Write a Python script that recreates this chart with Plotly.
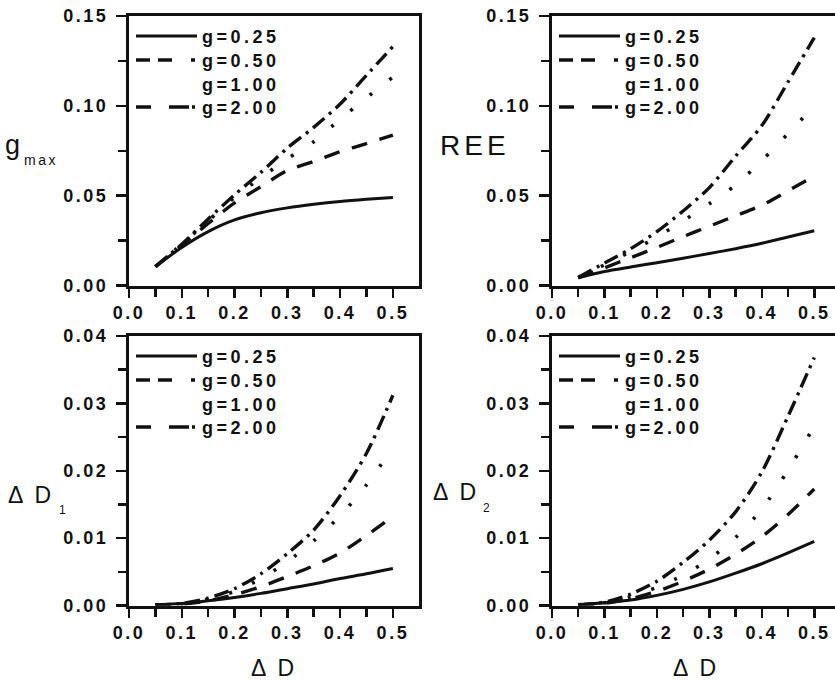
import plotly.graph_objects as go

# ---------------- data ----------------
dD = [0.05, 0.10, 0.15, 0.20, 0.25, 0.30, 0.35, 0.40, 0.45, 0.50]
g_labels = ["g=0.25", "g=0.50", "g=1.00", "g=2.00"]

gmax_025 = [0.0105, 0.0212, 0.0300, 0.0365, 0.0405, 0.0432, 0.0452, 0.0468, 0.0480, 0.0490]
gmax_050 = [0.0105, 0.0225, 0.0345, 0.0460, 0.0550, 0.0640, 0.0690, 0.0745, 0.0790, 0.0837]
gmax_100 = [0.0105, 0.0230, 0.0360, 0.0490, 0.0600, 0.0705, 0.0800, 0.0925, 0.1045, 0.1160]
gmax_200 = [0.0105, 0.0230, 0.0370, 0.0505, 0.0630, 0.0765, 0.0880, 0.1010, 0.1170, 0.1330]

ree_025 = [0.0043, 0.0078, 0.0103, 0.0127, 0.0152, 0.0178, 0.0205, 0.0235, 0.0270, 0.0305]
ree_050 = [0.0043, 0.0098, 0.0155, 0.0212, 0.0272, 0.0330, 0.0388, 0.0447, 0.0527, 0.0610]
ree_100 = [0.0045, 0.0115, 0.0190, 0.0270, 0.0360, 0.0455, 0.0559, 0.0695, 0.0845, 0.1000]
ree_200 = [0.0045, 0.0125, 0.0205, 0.0300, 0.0415, 0.0545, 0.0720, 0.0890, 0.1133, 0.1380]

d1_025 = [0.0001, 0.0003, 0.0007, 0.0012, 0.0018, 0.0025, 0.0032, 0.0040, 0.0047, 0.0055]
d1_050 = [0.00005, 0.0002, 0.0007, 0.0016, 0.0028, 0.0043, 0.0059, 0.0078, 0.0104, 0.0132]
d1_100 = [0.00005, 0.0002, 0.0009, 0.0021, 0.0040, 0.0065, 0.0096, 0.0133, 0.0179, 0.0235]
d1_200 = [0.00005, 0.0003, 0.0011, 0.0025, 0.0047, 0.0077, 0.0112, 0.0163, 0.0226, 0.0312]

d2_025 = [0.0001, 0.0004, 0.0008, 0.0015, 0.0024, 0.0035, 0.0048, 0.0062, 0.0078, 0.0095]
d2_050 = [0.0001, 0.0003, 0.0010, 0.0021, 0.0036, 0.0054, 0.0076, 0.0102, 0.0135, 0.0173]
d2_100 = [0.0001, 0.0004, 0.0013, 0.0027, 0.0045, 0.0069, 0.0101, 0.0143, 0.0201, 0.0266]
d2_200 = [0.0001, 0.0005, 0.0017, 0.0036, 0.0064, 0.0097, 0.0139, 0.0198, 0.0281, 0.0368]

x_tickvals = [0.0, 0.1, 0.2, 0.3, 0.4, 0.5]
x_ticktext = ["0.0", "0.1", "0.2", "0.3", "0.4", "0.5"]
y_top_tickvals = [0.0, 0.05, 0.10, 0.15]
y_top_ticktext = ["0.00", "0.05", "0.10", "0.15"]
y_bot_tickvals = [0.0, 0.01, 0.02, 0.03, 0.04]
y_bot_ticktext = ["0.00", "0.01", "0.02", "0.03", "0.04"]

# ---------------- styling ----------------
W, H = 835, 680
FONT = "Liberation Sans, Arial, sans-serif"
INK = "#111111"


def px(x):
    return x / W


def py(y):
    return 1 - y / H


def sp(text, ls):
    return f'<span style="letter-spacing:{ls}px">{text}</span>'


dashes = ["solid", "16px,13px", "3px,22px", "15px,6px,3px,6px"]
legend_dashes = ["solid", "14px,8px,14px,19px,4px,40px", None, "15px,18px,20px,3px,3px,40px"]
widths = [3, 3.4, 3.6, 3.4]

panels = [
    dict(series=[gmax_025, gmax_050, gmax_100, gmax_200], l=129, r=419, t=16, b=285.5,
         xr=[0, 0.5495], yr=[0, 0.15], yv=y_top_tickvals, yt=y_top_ticktext, ym=0.025, right=False),
    dict(series=[ree_025, ree_050, ree_100, ree_200], l=552, r=835, t=16, b=285.5,
         xr=[0, 0.5395], yr=[0, 0.15], yv=y_top_tickvals, yt=y_top_ticktext, ym=0.025, right=True),
    dict(series=[d1_025, d1_050, d1_100, d1_200], l=129, r=419, t=336, b=605.5,
         xr=[0, 0.5495], yr=[0, 0.04], yv=y_bot_tickvals, yt=y_bot_ticktext, ym=0.005, right=False),
    dict(series=[d2_025, d2_050, d2_100, d2_200], l=552, r=835, t=336, b=605.5,
         xr=[0, 0.5395], yr=[0, 0.04], yv=y_bot_tickvals, yt=y_bot_ticktext, ym=0.005, right=True),
]

fig = go.Figure()
layout = dict(
    width=W, height=H, margin=dict(l=0, r=0, t=0, b=0, autoexpand=False),
    paper_bgcolor="white", plot_bgcolor="white", showlegend=False,
    font=dict(family=FONT, color=INK, size=18),
)
shapes = []
annotations = []

for i, p in enumerate(panels):
    n = "" if i == 0 else str(i + 1)
    xa, ya = "x" + n, "y" + n
    for k, s in enumerate(p["series"]):
        fig.add_trace(go.Scatter(
            x=dD, y=s, mode="lines", xaxis=xa, yaxis=ya,
            line=dict(color=INK, width=widths[k], dash=dashes[k], shape="spline", smoothing=0.8),
            name=g_labels[k], showlegend=False, hoverinfo="skip"))
    axcommon = dict(showgrid=False, zeroline=False, showline=True, linecolor=INK, linewidth=3,
                    ticks="outside", tickwidth=2.5, tickcolor=INK, automargin=False,
                    tickfont=dict(family=FONT, size=18, color=INK, weight="bold"))
    layout["xaxis" + n] = dict(
        axcommon, domain=[px(p["l"]), px(p["r"])], range=p["xr"], anchor=ya,
        tickmode="array", tickvals=x_tickvals, ticktext=[sp(t, 2.5) for t in x_ticktext],
        ticklen=9, mirror=True,
        minor=dict(dtick=0.05, tick0=0, ticks="outside", ticklen=8, tickwidth=2.5, tickcolor=INK))
    layout["yaxis" + n] = dict(
        axcommon, domain=[py(p["b"]), py(p["t"])], range=p["yr"], anchor=xa,
        tickmode="array", tickvals=p["yv"], ticktext=[sp(t, 2.5) for t in p["yt"]],
        ticklen=10, mirror=not p["right"], ticklabelstandoff=4,
        minor=dict(dtick=p["ym"], tick0=0, ticks="outside", ticklen=8, tickwidth=2.5, tickcolor=INK))

    # legend (drawn as in the original: line sample + label)
    rows = [p["t"] + 20, p["t"] + 44, p["t"] + 68, p["t"] + 91]
    lx0 = p["l"] + 7
    lx1 = p["l"] + 68
    tx = p["l"] + 71
    for k in range(4):
        if legend_dashes[k] is not None:
            shapes.append(dict(type="line", xref="paper", yref="paper",
                               x0=px(lx0), x1=px(lx1), y0=py(rows[k]), y1=py(rows[k]),
                               line=dict(color=INK, width=widths[k], dash=legend_dashes[k])))
        annotations.append(dict(xref="paper", yref="paper", x=px(tx), y=py(rows[k] + 1),
                                xanchor="left", yanchor="middle", showarrow=False,
                                text=sp(g_labels[k], 3.5),
                                font=dict(family=FONT, size=18, color=INK, weight="bold")))


def ann(x, y, text, size, ls=0, anchor="left", weight="normal"):
    annotations.append(dict(xref="paper", yref="paper", x=px(x), y=py(y), xanchor=anchor,
                            yanchor="middle", showarrow=False, text=sp(text, ls) if ls else text,
                            font=dict(family=FONT, size=size, color=INK, weight=weight)))


# axis titles
ann(3, 145, "g", 27)
ann(22, 160, "max", 14, 2.5)
ann(438, 145, "REE", 28, 4)
ann(6, 495, "Δ D", 23, 3)
ann(57, 510, "1", 12)
ann(431, 492, "Δ D", 23, 3)
ann(481, 508, "2", 12)
ann(274, 668, "Δ D", 23, 3, anchor="center")
ann(696, 668, "Δ D", 23, 3, anchor="center")

layout["shapes"] = shapes
layout["annotations"] = annotations
fig.update_layout(**layout)
fig.write_html(
    "out.html",
    config={"displayModeBar": False, "staticPlot": True},
    post_script="document.body.style.margin='0';document.body.style.overflow='hidden';",
)
